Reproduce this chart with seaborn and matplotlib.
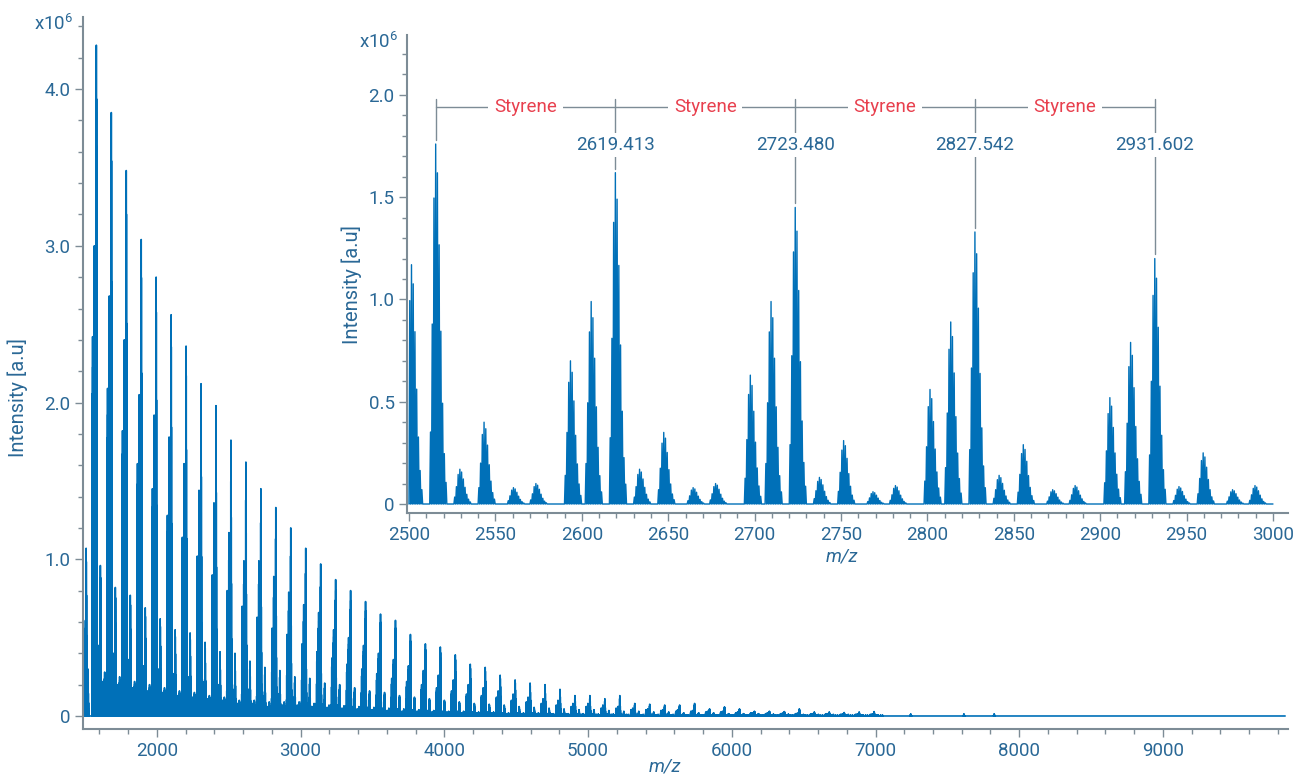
import numpy as np
import seaborn as sns
import matplotlib.pyplot as plt
from matplotlib.ticker import MultipleLocator, FuncFormatter

# --- DATOS (intensidad en x10^6) ---
# m/z del pico principal de cada oligómero (repetición de estireno)
serie_mz = [1578.8, 1682.9, 1786.9, 1891.0, 1995.0, 2099.1, 2203.2, 2307.2, 2411.3, 2515.4,
            2619.4, 2723.5, 2827.5, 2931.6, 3035.7, 3139.7, 3243.8, 3347.9, 3451.9, 3556.0,
            3660.0, 3764.1, 3868.2, 3972.2, 4076.3, 4180.4, 4284.4, 4388.5, 4492.5, 4596.6,
            4700.7, 4804.7, 4908.8, 5012.9, 5116.9, 5221.0, 5325.0, 5429.1, 5533.2, 5637.2,
            5741.3, 5845.4, 5949.4, 6053.5, 6157.5, 6261.6, 6365.7, 6469.7, 6573.8, 6677.8,
            6781.9, 6886.0, 6990.0]

# pico principal (M)
int_m = [4.28, 3.85, 3.48, 3.04, 2.80, 2.56, 2.36, 2.12, 1.98, 1.76,
         1.62, 1.45, 1.33, 1.20, 1.07, 0.97, 0.87, 0.80, 0.73, 0.65,
         0.61, 0.52, 0.46, 0.44, 0.39, 0.33, 0.31, 0.26, 0.23, 0.21,
         0.20, 0.17, 0.13, 0.13, 0.11, 0.13, 0.08, 0.075, 0.07, 0.07,
         0.08, 0.045, 0.058, 0.045, 0.03, 0.03, 0.028, 0.045, 0.025, 0.025,
         0.022, 0.025, 0.028]
# series secundarias
int_a = [3.00, 2.68, 2.40, 2.05, 1.92, 1.78, 1.61, 1.44, 1.36, 1.17,      # M-14
         0.99, 0.99, 0.89, 0.79, 0.71, 0.66, 0.55, 0.50, 0.45, 0.40,
         0.36, 0.32, 0.29, 0.26, 0.23, 0.20, 0.18, 0.16, 0.14, 0.12,
         0.11, 0.10, 0.08, 0.08, 0.07, 0.06, 0.05, 0.045, 0.04, 0.04,
         0.035, 0.03, 0.03, 0.025, 0.02, 0.02, 0.018, 0.018, 0.015, 0.015,
         0.012, 0.012, 0.012]
int_b = [2.42, 2.09, 1.82, 1.61, 1.45, 1.28, 1.14, 1.02, 0.90, 0.80,      # M-26
         0.70, 0.63, 0.56, 0.52, 0.46, 0.41, 0.37, 0.33, 0.30, 0.27,
         0.24, 0.22, 0.20, 0.18, 0.16, 0.14, 0.13, 0.12, 0.10, 0.09,
         0.08, 0.07, 0.06, 0.06, 0.05, 0.05, 0.04, 0.04, 0.035, 0.03,
         0.03, 0.025, 0.025, 0.02, 0.02, 0.015, 0.015, 0.015, 0.012, 0.012,
         0.01, 0.01, 0.01]
int_c = [0.96, 0.82, 0.77, 0.69, 0.62, 0.55, 0.53, 0.47, 0.41, 0.40,      # M+28
         0.35, 0.31, 0.29, 0.25, 0.24, 0.21, 0.20, 0.18, 0.16, 0.15,
         0.13, 0.12, 0.11, 0.10, 0.09, 0.08, 0.075, 0.07, 0.06, 0.055,
         0.05, 0.045, 0.04, 0.04, 0.035, 0.03, 0.03, 0.025, 0.025, 0.02,
         0.02, 0.02, 0.015, 0.015, 0.015, 0.012, 0.012, 0.01, 0.01, 0.01,
         0.01, 0.008, 0.008]
int_d = [0.45, 0.40, 0.36, 0.32, 0.30, 0.27, 0.25, 0.22, 0.20, 0.17,      # M+14
         0.17, 0.13, 0.14, 0.085, 0.08, 0.075, 0.07, 0.06, 0.055, 0.05,
         0.045, 0.04, 0.035, 0.03, 0.03, 0.025, 0.025, 0.02, 0.02, 0.02,
         0.015, 0.015, 0.015, 0.012, 0.012, 0.01, 0.01, 0.01, 0.01, 0.008,
         0.008, 0.008, 0.008, 0.006, 0.006, 0.006, 0.006, 0.005, 0.005, 0.005,
         0.005, 0.005, 0.005]
int_e = [0.22, 0.20, 0.18, 0.16, 0.15, 0.13, 0.12, 0.11, 0.10, 0.08,      # M+45
         0.08, 0.06, 0.07, 0.07, 0.06, 0.055, 0.05, 0.045, 0.04, 0.035,
         0.03, 0.03, 0.025, 0.025, 0.02, 0.02, 0.02, 0.015, 0.015, 0.015,
         0.012, 0.012, 0.01, 0.01, 0.01, 0.01, 0.008, 0.008, 0.008, 0.008,
         0.006, 0.006, 0.006, 0.006, 0.005, 0.005, 0.005, 0.005, 0.004, 0.004,
         0.004, 0.004, 0.004]
int_f = [0.28, 0.25, 0.22, 0.20, 0.18, 0.16, 0.15, 0.13, 0.12, 0.10,      # M+58
         0.10, 0.09, 0.09, 0.09, 0.08, 0.07, 0.065, 0.06, 0.055, 0.05,
         0.045, 0.04, 0.035, 0.03, 0.03, 0.025, 0.025, 0.02, 0.02, 0.02,
         0.015, 0.015, 0.015, 0.012, 0.012, 0.01, 0.01, 0.01, 0.01, 0.008,
         0.008, 0.008, 0.008, 0.006, 0.006, 0.006, 0.006, 0.005, 0.005, 0.005,
         0.005, 0.005, 0.005]
desplazamientos = {'m': 0, 'a': -14, 'b': -26, 'c': 28, 'd': 14, 'e': 45, 'f': 58}
series = {'m': int_m, 'a': int_a, 'b': int_b, 'c': int_c, 'd': int_d, 'e': int_e, 'f': int_f}

# picos sueltos (borde izquierdo y cola a alto m/z)
sueltos_mz = [1503, 1508, 1520, 7245, 7615, 7825]
sueltos_int = [0.61, 1.07, 0.30, 0.012, 0.012, 0.012]

# rango adquirido (completo y del inserto)
rango_mz = [1500, 9850]
rango_inserto = [2500, 3000]

# forma isotópica relativa de cada pico
iso_offset = [-3, -2, -1, 0, 1, 2, 3, 4, 5, 6]
iso_rel = [0.2, 0.5, 0.85, 1.0, 0.92, 0.72, 0.48, 0.28, 0.14, 0.06]

# picos marcados en el inserto
etiquetas_mz = [2515.347, 2619.413, 2723.480, 2827.542, 2931.602]
etiquetas_int = [1.76, 1.62, 1.45, 1.33, 1.20]
etiquetas_txt = ['', '2619.413', '2723.480', '2827.542', '2931.602']

AZUL = '#0070b8'
TEXTO = '#2a6896'
GRIS = '#7d8c96'
ROJO = '#e8404e'


def armar_traza(desde, hasta):
    picos = []
    for clave, ints in series.items():
        for mz, h in zip(serie_mz, ints):
            picos.append((mz + desplazamientos[clave], h))
    picos += list(zip(sueltos_mz, sueltos_int))
    picos.sort()
    xs, ys = [desde], [0.0]
    for mz, h in picos:
        for off, rel in zip(iso_offset, iso_rel):
            x = mz + off
            if desde <= x <= hasta:
                xs += [x - 0.45, x, x + 0.45]
                ys += [0.0, h * rel, 0.0]
    xs.append(hasta)
    ys.append(0.0)
    return np.array(xs), np.array(ys)


def estilo_eje(ax):
    sns.despine(ax=ax)
    for lado in ['left', 'bottom']:
        ax.spines[lado].set_color(GRIS)
        ax.spines[lado].set_linewidth(1.5)
    ax.tick_params(which='both', direction='out', color=GRIS, labelcolor=TEXTO,
                   labelsize=13.5, width=1.0, left=True, bottom=True)
    ax.tick_params(which='major', length=5.5)
    ax.tick_params(which='minor', length=3.5)
    ax.yaxis.set_major_formatter(FuncFormatter(lambda v, p: '0' if abs(v) < 1e-9 else f'{v:.1f}'))
    ax.grid(False)


sns.set_theme(style="ticks")
plt.rcParams['font.family'] = ['Roboto', 'DejaVu Sans']

xs, ys = armar_traza(*rango_mz)
xs_in, ys_in = armar_traza(*rango_inserto)

fig = plt.figure(figsize=(12.96, 7.77), dpi=100)
ax = fig.add_axes([83 / 1296, 1 - 729 / 777, (1288 - 83) / 1296, (729 - 17) / 777])
axin = fig.add_axes([407 / 1296, 1 - 513 / 777, (1288 - 407) / 1296, (513 - 35) / 777])

# --- espectro completo ---
sns.lineplot(x=xs, y=ys, sort=False, estimator=None, color=AZUL, linewidth=1.2, ax=ax)
ax.set_xlim(1486, 9870)
ax.set_ylim(-0.083, 4.46)
ax.xaxis.set_major_locator(MultipleLocator(1000))
ax.xaxis.set_minor_locator(MultipleLocator(200))
ax.yaxis.set_major_locator(MultipleLocator(1.0))
ax.yaxis.set_minor_locator(MultipleLocator(0.2))
estilo_eje(ax)
ax.set_xticks([2000, 3000, 4000, 5000, 6000, 7000, 8000, 9000])
ax.set_xlabel('m/z', style='italic', color=TEXTO, fontsize=13.5, va='center')
ax.set_ylabel('Intensity [a.u]', color=TEXTO, fontsize=14.5, va='center')
ax.xaxis.set_label_coords(0.483, -0.053)
ax.yaxis.set_label_coords(-0.054, 0.466)
ax.text(-0.008, 4.42, r'x10$^{\mathregular{6}}$', transform=ax.get_yaxis_transform(),
        ha='right', va='center', color=TEXTO, fontsize=13.5)

# --- inserto 2500-3000 ---
axin.set_facecolor('white')
sns.lineplot(x=xs_in, y=ys_in, sort=False, estimator=None, color=AZUL, linewidth=1.0, ax=axin)
axin.set_xlim(2498.8, 3008.7)
axin.set_ylim(-0.044, 2.293)
axin.xaxis.set_major_locator(MultipleLocator(50))
axin.xaxis.set_minor_locator(MultipleLocator(10))
axin.yaxis.set_major_locator(MultipleLocator(0.5))
axin.yaxis.set_minor_locator(MultipleLocator(0.1))
estilo_eje(axin)
axin.set_xticks(np.arange(2500, 3001, 50))
axin.set_xlabel('m/z', style='italic', color=TEXTO, fontsize=13.5, va='center')
axin.set_ylabel('Intensity [a.u]', color=TEXTO, fontsize=14.5, va='center')
axin.xaxis.set_label_coords(0.494, -0.09)
axin.yaxis.set_label_coords(-0.0624, 0.477)
axin.text(-0.01, 2.26, r'x10$^{\mathregular{6}}$', transform=axin.get_yaxis_transform(),
          ha='right', va='center', color=TEXTO, fontsize=13.5)

# corchetes de estireno
y_corchete = 1.94
axin.plot([etiquetas_mz[0], etiquetas_mz[-1]], [y_corchete, y_corchete], color=GRIS, lw=1.0, zorder=3)
for mz, h, txt in zip(etiquetas_mz, etiquetas_int, etiquetas_txt):
    axin.plot([mz, mz], [1.98, h + 0.02], color=GRIS, lw=1.0, zorder=3)
    if txt:
        axin.text(mz, 1.755, txt, ha='center', va='center', color=TEXTO, fontsize=13.5, zorder=5,
                  bbox=dict(boxstyle='square,pad=0.15', fc='white', ec='none'))
for m1, m2 in zip(etiquetas_mz[:-1], etiquetas_mz[1:]):
    axin.text((m1 + m2) / 2, y_corchete, 'Styrene', ha='center', va='center', color=ROJO,
              fontsize=13.5, zorder=5, bbox=dict(boxstyle='square,pad=0.3', fc='white', ec='none'))

plt.savefig('out.png', dpi=100)
